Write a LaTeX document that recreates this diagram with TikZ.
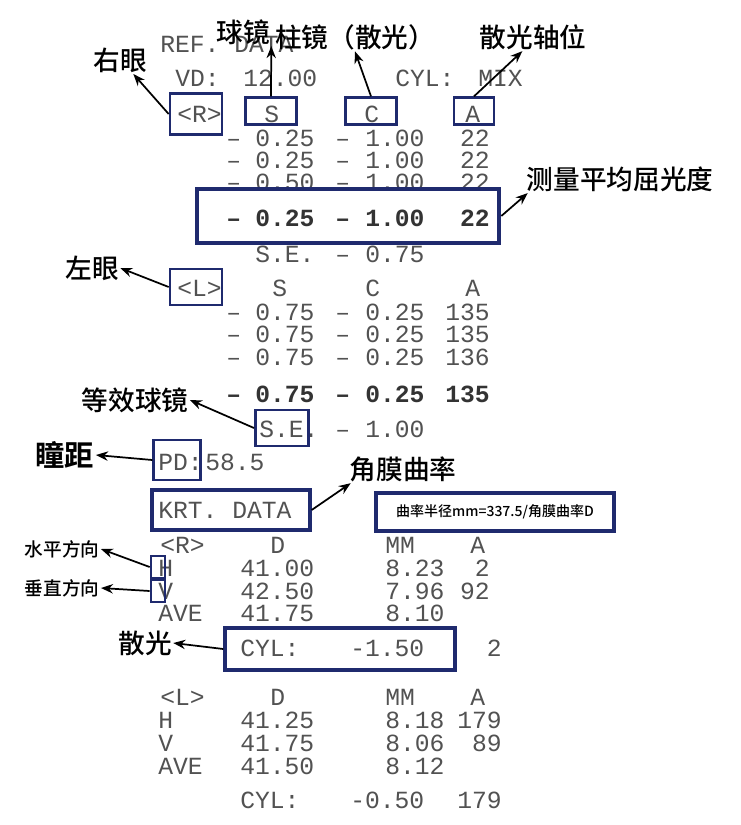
\documentclass[tikz,border=0pt]{standalone}
\usepackage{fontspec}
\setmonofont{Liberation Mono}
\newfontfamily\cjk{Noto Sans CJK SC Medium}
\newfontfamily\cjkb{Noto Sans CJK SC Bold}
\usetikzlibrary{arrows.meta}
\newcounter{tc}
\tikzset{
 pt/.style={font=\ttfamily\fontsize{18.5}{20}\selectfont, text=black!68, inner sep=0pt},
 ptb/.style={font=\ttfamily\bfseries\fontsize{18.5}{20}\selectfont, text=black!80, inner sep=0pt},
 lab/.style={font=\cjk\fontsize{20}{22}\selectfont, inner sep=1pt},
 labs/.style={font=\cjk\fontsize{14}{16}\selectfont, inner sep=1pt},
 bx/.style={draw=navy, line width=2pt},
 bigbx/.style={draw=navy, line width=3pt},
 arr/.style={-{Stealth[length=9pt,width=7pt]}, line width=1.3pt, black}
}
\definecolor{navy}{HTML}{1F2A6E}
\newcommand\tx[4][pt]{\stepcounter{tc}\node[#1,anchor=base west] (t\arabic{tc}) at (#2,#3+8) {#4};}
\newcommand\tr[4][pt]{\stepcounter{tc}\node[#1,anchor=base east] (t\arabic{tc}) at (#2,#3+8) {#4};}
\newcommand\mn[3][pt]{\stepcounter{tc}\node[#1,anchor=base west] (t\arabic{tc}) at (#2,#3+8) {–};}
\begin{document}
\begin{tikzpicture}[x=0.75pt,y=-0.75pt]
\useasboundingbox[fill=white] (0,0) rectangle (741,825);
% header
\tx{160}{44}{REF. DATA}
\tx{175}{78}{VD:}\tx{243}{78}{12.00}\tx{395}{78}{CYL:}\tx{478}{78}{MIX}
\tx{177}{114}{<R>}\tx{264}{114}{S}\tx{364}{114}{C}\tx{465}{114}{A}
% right rows
\foreach \y/\s in {138/0.25,160/0.25,182/0.50}{
 \mn{226}{\y}\tx{255}{\y}{\s}\mn{335}{\y}\tx{365}{\y}{1.00}\tr{490}{\y}{22}}
\mn[ptb]{226}{218}\tx[ptb]{255}{218}{0.25}\mn[ptb]{335}{218}\tx[ptb]{365}{218}{1.00}\tr[ptb]{490}{218}{22}
\tx{255}{254}{S.E.}\mn{335}{254}\tx{365}{254}{0.75}
\tx{177}{288}{<L>}\tx{272}{288}{S}\tx{365}{288}{C}\tx{465}{288}{A}
\foreach \y/\a in {312/135,334/135,357/136}{
 \mn{226}{\y}\tx{255}{\y}{0.75}\mn{335}{\y}\tx{365}{\y}{0.25}\tr{490}{\y}{\a}}
\mn[ptb]{226}{394}\tx[ptb]{255}{394}{0.75}\mn[ptb]{335}{394}\tx[ptb]{365}{394}{0.25}\tr[ptb]{490}{394}{135}
\tx{259}{429}{S.E.}\mn{335}{429}\tx{365}{429}{1.00}
\tx{158}{462}{PD:}\tx{205}{462}{58.5}
\tx{158}{510}{KRT. DATA}
\tx{160}{545}{<R>}\tx{270}{545}{D}\tx{385}{545}{MM}\tx{470}{545}{A}
\foreach \y/\h/\d/\m/\a in {568/H/41.00/8.23/2,591/V/42.50/7.96/92,613/AVE/41.75/8.10/{}}{
 \tx{158}{\y}{\h}\tx{240}{\y}{\d}\tx{385}{\y}{\m}\tr{490}{\y}{\a}}
\tx{240}{648}{CYL:}\tx{350}{648}{-1.50}\tr{502}{648}{2}
\tx{160}{697}{<L>}\tx{270}{697}{D}\tx{385}{697}{MM}\tx{470}{697}{A}
\foreach \y/\h/\d/\m/\a in {720/H/41.25/8.18/179,743/V/41.75/8.06/89,766/AVE/41.50/8.12/{}}{
 \tx{158}{\y}{\h}\tx{240}{\y}{\d}\tx{385}{\y}{\m}\tr{502}{\y}{\a}}
\tx{240}{800}{CYL:}\tx{350}{800}{-0.50}\tr{502}{800}{179}
% boxes
\node[bx,minimum width=39pt,minimum height=31pt] (bR) at (196,114) {};
\node[bx,minimum width=38pt,minimum height=20pt] (bS) at (271,111) {};
\node[bx,minimum width=38pt,minimum height=20pt] (bC) at (371,111) {};
\node[bx,minimum width=30pt,minimum height=20pt] (bA) at (474,111) {};
\node[bigbx,minimum width=227pt,minimum height=40pt] (bAvg) at (348,216) {};
\node[bx,minimum width=39pt,minimum height=27pt] (bL) at (196,287) {};
\node[bx,minimum width=40pt,minimum height=27pt] (bSE) at (282,428) {};
\node[bx,minimum width=35pt,minimum height=30pt] (bPD) at (177,460) {};
\node[bigbx,minimum width=118pt,minimum height=30pt] (bK) at (231,510) {};
\node[bigbx,minimum width=178pt,minimum height=28pt,font=\cjk\fontsize{10.5}{12}\selectfont,align=center] (bF) at (495,512) {曲率半径mm=337.5/角膜曲率D};
\node[bx,line width=1.5pt,minimum width=11pt,minimum height=17pt] (bH) at (158,567) {};
\node[bx,line width=1.5pt,minimum width=11pt,minimum height=16pt] (bV) at (158,591) {};
\node[bigbx,minimum width=172pt,minimum height=31pt] (bCyl) at (340,649) {};
% labels
\node[lab] (lS) at (243,32) {球镜};
\node[lab] (lC) at (355,37) {柱镜（散光）};
\node[lab] (lA) at (533,37) {散光轴位};
\node[lab] (lR) at (120,60) {右眼};
\node[lab] (lAvg) at (620,179) {测量平均屈光度};
\node[lab] (lL) at (92,268) {左眼};
\node[lab] (lSE) at (135,400) {等效球镜};
\node[lab,font=\cjkb\fontsize{22}{24}\selectfont] (lPD) at (65,455) {瞳距};
\node[lab] (lK) at (403,469) {角膜曲率};
\node[labs] (lH) at (62,549) {水平方向};
\node[labs] (lV) at (62,588) {垂直方向};
\node[lab] (lCyl) at (145,643) {散光};
% arrows
\draw[arr] (bS.north) -- (lS.south east);
\draw[arr] (bC.north) -- (lC.south);
\draw[arr] (bA.north) -- ([xshift=-8pt]lA.south);
\draw[arr] (bR.west) -- ([xshift=10pt]lR.south);
\draw[arr] (bAvg.east) -- ([xshift=2pt]lAvg.south west);
\draw[arr] (bL.west) -- (lL.east);
\draw[arr] (bSE.west) -- (lSE.east);
\draw[arr] (bPD.west) -- (lPD.east);
\draw[arr] (bK.east) -- ([xshift=2pt]lK.south west);
\draw[arr] (bH.west) -- (lH.east);
\draw[arr] (bV.west) -- (lV.east);
\draw[arr] (bCyl.west) -- (lCyl.east);
\end{tikzpicture}
\end{document}
